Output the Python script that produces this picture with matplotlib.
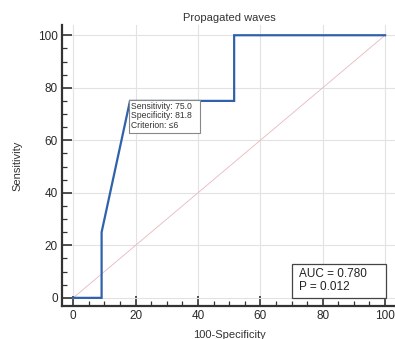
import matplotlib
matplotlib.use("Agg")
import matplotlib.pyplot as plt
from matplotlib.ticker import MultipleLocator
from matplotlib.patches import Rectangle

# ROC data (100-Specificity vs Sensitivity)
fpr = [0, 9.1, 9.1, 18.2, 51.6, 51.6, 100]
tpr = [0, 0, 25, 75, 75, 100, 100]
diag_x = [0, 100]
diag_y = [0, 100]
title = "Propagated waves"
annot_text = "Sensitivity: 75.0\nSpecificity: 81.8\nCriterion: \u22646"
auc_text = "AUC = 0.780\nP = 0.012"
ticks = [0, 20, 40, 60, 80, 100]

plt.rcParams['font.family'] = ['Liberation Sans', 'DejaVu Sans']
fig = plt.figure(figsize=(3.95, 3.39), dpi=100)
ax = fig.add_axes([62/395, 33/339, 334/395, 281/339])

ax.set_xlim(-3.6, 103.5)
ax.set_ylim(-3.1, 103.9)

ax.grid(True, color='#e2e2e2', linewidth=0.8)
ax.set_axisbelow(True)
ax.plot(diag_x, diag_y, color='#e8b8bc', linewidth=0.6)
ax.plot(fpr, tpr, color='#2f62ab', linewidth=1.6, solid_joinstyle='miter')

for s in ['top', 'right']:
    ax.spines[s].set_visible(False)
for s in ['left', 'bottom']:
    ax.spines[s].set_linewidth(1.6)
    ax.spines[s].set_color('#333333')

ax.set_xticks(ticks)
ax.set_yticks(ticks)
ax.xaxis.set_minor_locator(MultipleLocator(5))
ax.yaxis.set_minor_locator(MultipleLocator(5))
ax.tick_params(which='major', direction='in', length=7, width=1.2, color='#333333',
               labelsize=8.5, labelcolor='#2a2a2a', pad=3)
ax.tick_params(which='minor', direction='in', length=3.5, width=0.9, color='#333333')

ax.set_title(title, fontsize=8, color='#333333', pad=3)
ax.set_xlabel("100-Specificity", fontsize=8, color='#333333', labelpad=5.5)
ax.set_ylabel("Sensitivity", fontsize=8, color='#333333', labelpad=11)

# criterion annotation box
ax.add_patch(Rectangle((18.0, 62.9), 22.6, 12.6, facecolor='white', edgecolor='#888888',
                       linewidth=0.8, zorder=4))
ax.text(18.6, 74.6, annot_text, fontsize=6.2, color='#333333', va='top', ha='left',
        linespacing=1.05, zorder=5)

# AUC box
ax.add_patch(Rectangle((70.0, 0.0), 30.3, 12.9, facecolor='white', edgecolor='#444444',
                       linewidth=0.9, zorder=4))
ax.text(72.3, 6.6, auc_text, fontsize=8.5, color='#222222', va='center', ha='left',
        linespacing=1.15, zorder=5)

fig.savefig("out.png", dpi=100)
